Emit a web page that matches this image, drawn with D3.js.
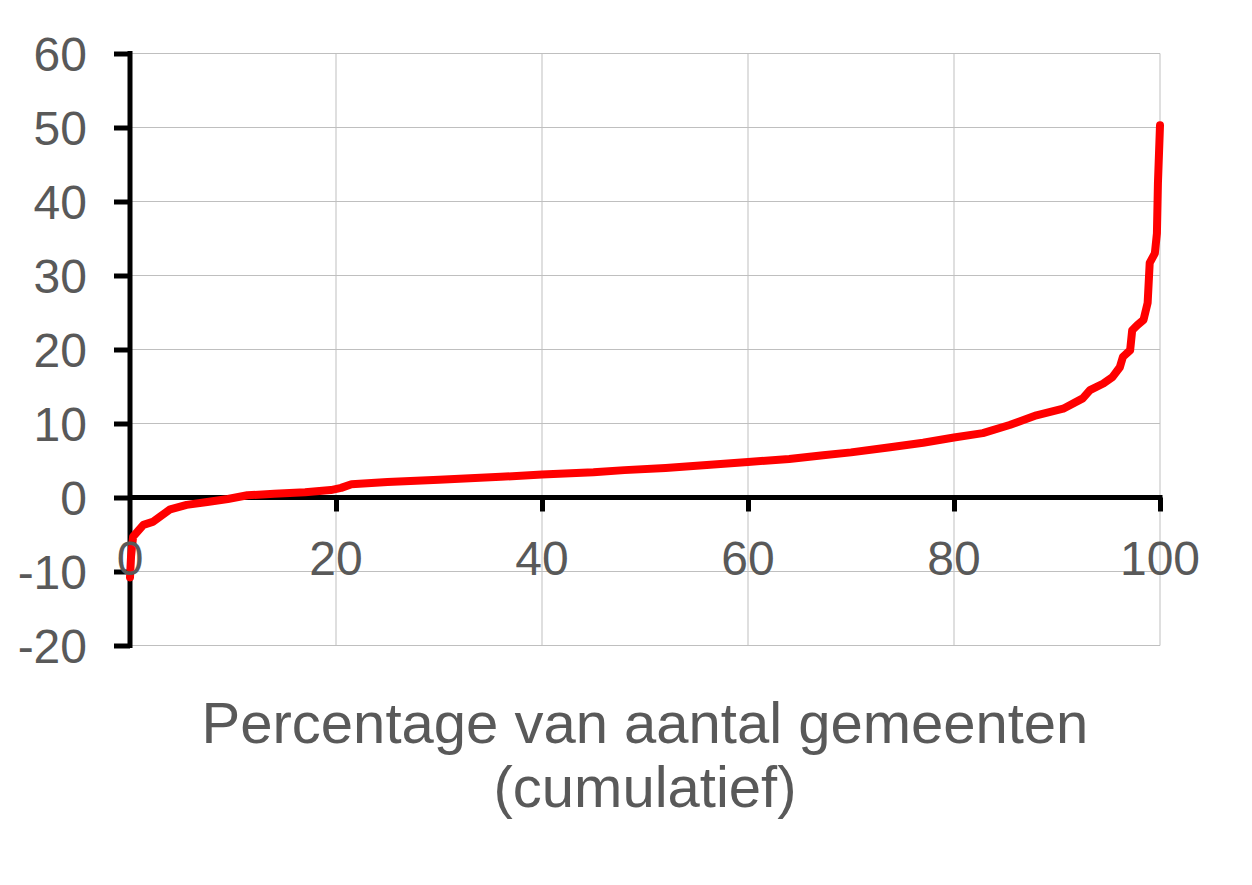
<!DOCTYPE html>
<html>
<head>
<meta charset="utf-8">
<script src="https://cdn.jsdelivr.net/npm/d3@7"></script>
<style>
  body { margin: 0; background: #fff; }
  svg { display: block; }
</style>
</head>
<body>
<svg></svg>
<script>
// cumulative share of municipalities (%) and the value
let pct = [0, 0.1, 0.3, 1.3, 2.2, 2.9, 3.9, 5.5, 7.5, 9.5, 11.4, 14, 17, 19.5, 20.5, 21.5, 25, 30, 36, 40, 45, 48, 52, 56, 60, 64, 67.3, 70, 73.8, 77, 80, 82.8, 85.4, 88, 90.6, 92.5, 93.2, 94.5, 95.4, 96.1, 96.4, 97.1, 97.3, 97.8, 98.4, 98.8, 99.0, 99.5, 99.7, 99.8, 100]
let values = [-10.8, -8, -5.3, -3.7, -3.3, -2.6, -1.6, -1.0, -0.6, -0.2, 0.3, 0.5, 0.7, 1.0, 1.3, 1.8, 2.1, 2.4, 2.8, 3.1, 3.4, 3.7, 4.0, 4.4, 4.8, 5.2, 5.7, 6.1, 6.8, 7.4, 8.1, 8.7, 9.8, 11.1, 12.0, 13.4, 14.5, 15.4, 16.3, 17.6, 19.0, 19.9, 22.6, 23.3, 24.0, 26.3, 31.7, 33.0, 35.7, 42.5, 50.3]

let xTicks = [0, 20, 40, 60, 80, 100]
let yTicks = [-20, -10, 0, 10, 20, 30, 40, 50, 60]
let titleLines = ['Percentage van aantal gemeenten', '(cumulatief)']

let width = 1252
let height = 885
let font = '"Liberation Sans", Arial, sans-serif'
let textColor = '#595959'

let svg = d3.select('svg')
  .attr('width', width)
  .attr('height', height)

let x = d3.scaleLinear().domain([0, 100]).range([130, 1160])
let y = d3.scaleLinear().domain([-20, 60]).range([645.5, 53.5])

// grid
let grid = svg.append('g')
grid.selectAll('.hgrid')
  .data(yTicks)
  .enter()
  .append('line')
  .attr('x1', x(0))
  .attr('x2', x(100))
  .attr('y1', d => y(d))
  .attr('y2', d => y(d))
  .attr('stroke', '#bfbfbf')
  .attr('stroke-width', 1)
grid.selectAll('.vgrid')
  .data(xTicks.filter(d => d > 0))
  .enter()
  .append('line')
  .attr('x1', d => x(d))
  .attr('x2', d => x(d))
  .attr('y1', y(60))
  .attr('y2', y(-20))
  .attr('stroke', '#bfbfbf')
  .attr('stroke-width', 1)

// axis lines and ticks
let yAxis = svg.append('g')
  .attr('transform', 'translate(' + x(0) + ',0)')
  .call(d3.axisLeft(y).tickValues(yTicks).tickSize(16).tickSizeOuter(0).tickFormat(''))
let xAxis = svg.append('g')
  .attr('transform', 'translate(0,' + y(0) + ')')
  .call(d3.axisBottom(x).tickValues(xTicks.filter(d => d > 0)).tickSize(14).tickSizeOuter(0).tickFormat(''))

yAxis.select('.domain').attr('stroke', '#000').attr('stroke-width', 5)
  .attr('d', 'M0,' + (y(-20) + 2.5) + 'V' + (y(60) - 2.5))
yAxis.selectAll('.tick line').attr('stroke', '#000').attr('stroke-width', 5)
xAxis.select('.domain').attr('stroke', '#000').attr('stroke-width', 5)
  .attr('d', 'M' + x(0) + ',0H' + (x(100) + 2.5))
xAxis.selectAll('.tick line').attr('stroke', '#000').attr('stroke-width', 5)

// curve
let line = d3.line()
  .x((d, i) => x(pct[i]))
  .y(d => y(d))

svg.append('path')
  .attr('d', line(values))
  .attr('fill', 'none')
  .attr('stroke', '#ff0000')
  .attr('stroke-width', 8)
  .attr('stroke-linejoin', 'round')
  .attr('stroke-linecap', 'round')

// tick labels on top
svg.append('g')
  .selectAll('text')
  .data(yTicks)
  .enter()
  .append('text')
  .attr('x', 87)
  .attr('y', d => y(d) + 17)
  .attr('text-anchor', 'end')
  .attr('font-family', font)
  .attr('font-size', 48)
  .attr('fill', textColor)
  .text(d => d)

svg.append('g')
  .selectAll('text')
  .data(xTicks)
  .enter()
  .append('text')
  .attr('x', d => x(d))
  .attr('y', 575)
  .attr('text-anchor', 'middle')
  .attr('font-family', font)
  .attr('font-size', 48)
  .attr('fill', textColor)
  .text(d => d)

svg.append('g')
  .selectAll('text')
  .data(titleLines)
  .enter()
  .append('text')
  .attr('x', 645)
  .attr('y', (d, i) => 743 + i * 64)
  .attr('text-anchor', 'middle')
  .attr('font-family', font)
  .attr('font-size', 58)
  .attr('fill', textColor)
  .text(d => d)
</script>
</body>
</html>
